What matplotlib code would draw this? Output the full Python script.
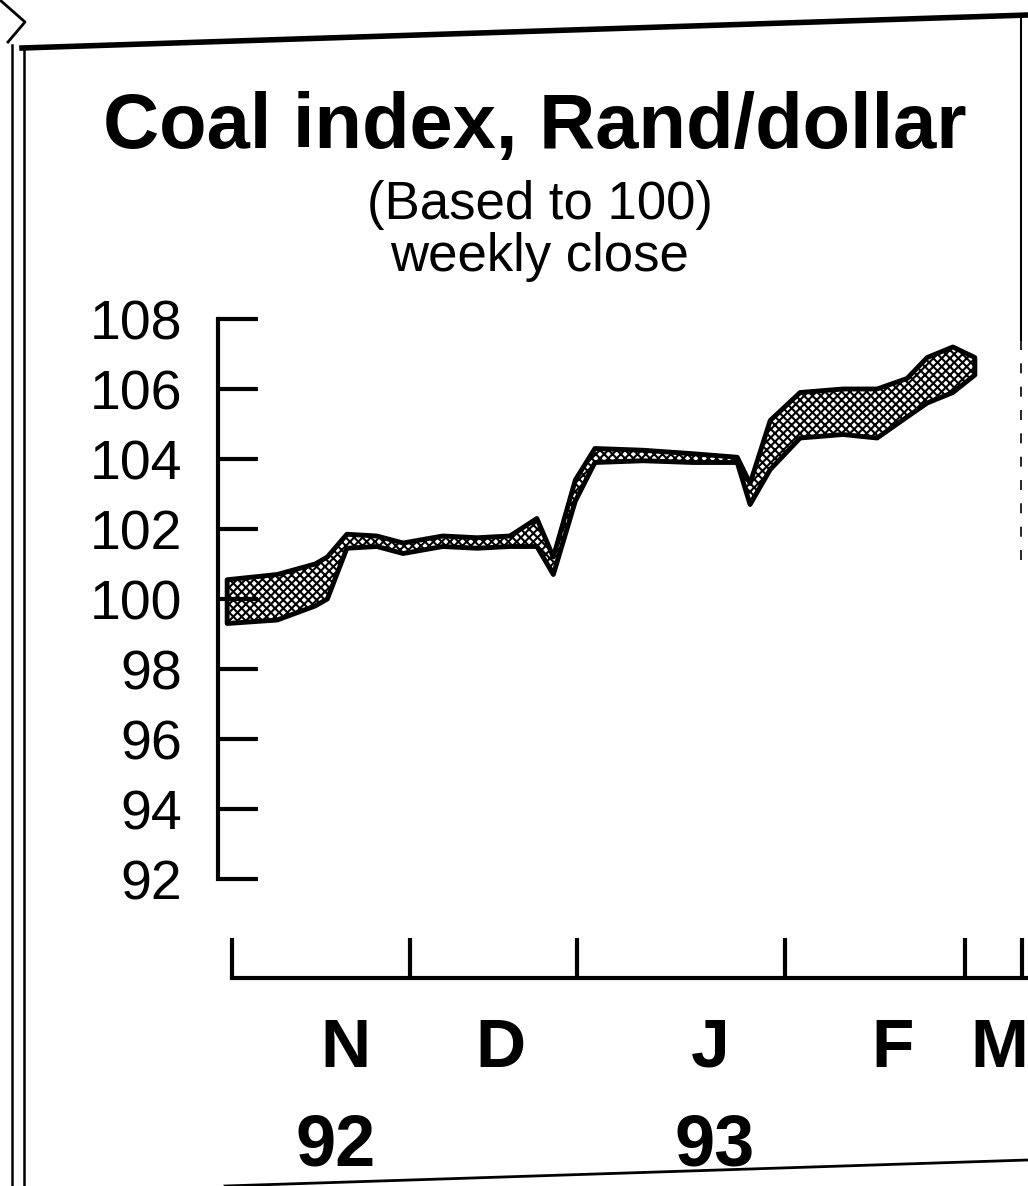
import matplotlib
matplotlib.use('Agg')
import matplotlib.pyplot as plt
import matplotlib.transforms as mtransforms
from matplotlib.lines import Line2D

plt.rcParams['font.family'] = ['Liberation Sans Narrow', 'Liberation Sans', 'DejaVu Sans']
plt.rcParams['hatch.linewidth'] = 1.5

# weekly close band, x in days from 1 Nov 1992 as laid out on the chart
days = [-0.8, 7.4, 13.6, 15.6, 18.8, 23.7, 28.0, 34.5, 40.1, 45.5, 49.9, 52.6,
        56.2, 59.4, 67.3, 75.5, 82.7, 84.8, 88.1, 93.0, 100.0, 105.6, 110.5,
        113.8, 118.0, 121.6]
upper = [100.55, 100.7, 101.0, 101.2, 101.85, 101.8, 101.6, 101.8, 101.75, 101.8,
         102.3, 101.2, 103.4, 104.3, 104.25, 104.15, 104.05, 103.3, 105.1, 105.9,
         106.0, 106.0, 106.3, 106.9, 107.2, 106.9]
lower = [99.3, 99.4, 99.8, 100.0, 101.45, 101.5, 101.3, 101.5, 101.45, 101.5,
         101.5, 100.7, 102.8, 103.9, 103.95, 103.9, 103.9, 102.7, 103.7, 104.6,
         104.7, 104.6, 105.2, 105.6, 105.9, 106.4]

yticks = [92, 94, 96, 98, 100, 102, 104, 106, 108]
month_edges = [0, 29.1, 56.5, 90.6, 120, 129.3]
month_mid = [18.5, 43.9, 78.3, 108.2, 125.6]
months = ['N', 'D', 'J', 'F', 'M']
year_pos = [16.9, 79.0]
years = ['92', '93']

W, H = 1028, 1186
fig = plt.figure(figsize=(W / 100, H / 100), dpi=100)

# main panel
ax = fig.add_axes([218 / W, (H - 879) / H, (W - 218) / W, 560 / H])
ax.set_xlim(-2.3, 130.3)
ax.set_ylim(92, 108)
ax.fill_between(days, lower, upper, facecolor='white', edgecolor='black',
                hatch='xxxx', linewidth=3.5)
for s in ['top', 'right', 'bottom']:
    ax.spines[s].set_visible(False)
ax.spines['left'].set_linewidth(3)
ax.spines['left'].set_bounds(92, 108)
ax.set_yticks(yticks)
ax.set_yticklabels([str(v) for v in yticks])
ax.tick_params(axis='y', direction='in', length=29, width=3, labelsize=40, pad=26)
ax.set_xticks([])
ax.patch.set_alpha(0)

# month axis, drawn apart below the panel
ax2 = fig.add_axes([218 / W, (H - 978) / H, (W - 218) / W, 0.0001])
ax2.set_xlim(-2.3, 130.3)
ax2.set_ylim(0, 1)
for s in ['top', 'right', 'left']:
    ax2.spines[s].set_visible(False)
ax2.spines['bottom'].set_linewidth(3)
ax2.spines['bottom'].set_bounds(0, 131)
ax2.set_yticks([])
ax2.set_xticks(month_edges)
ax2.set_xticklabels([''] * len(month_edges))
ax2.tick_params(axis='x', which='major', direction='in', length=29, width=3)
ax2.set_xticks(month_mid, minor=True)
ax2.set_xticklabels(months, minor=True, fontsize=50, fontweight='bold')
ax2.tick_params(axis='x', which='minor', length=0, pad=28)
ax2.patch.set_alpha(0)

trans = mtransforms.blended_transform_factory(ax2.transData, fig.transFigure)
for x, lab in zip(year_pos, years):
    ax2.text(x, 1 - 1146 / H, lab, transform=trans, ha='center', va='center',
             fontsize=52, fontweight='bold', clip_on=False)

# titles
fig.text(535 / W, 1 - 128 / H, 'Coal index, Rand/dollar', ha='center', va='center',
         fontsize=56, fontweight='bold')
fig.text(540 / W, 1 - 205 / H, '(Based to 100)', ha='center', va='center', fontsize=38)
fig.text(540 / W, 1 - 257 / H, 'weekly close', ha='center', va='center', fontsize=38)

# clipping frame from the page
def px_line(xs, ys, **kw):
    fig.add_artist(Line2D([x / W for x in xs], [1 - y / H for y in ys],
                          transform=fig.transFigure, color='black', **kw))

px_line([22, 1028], [48, 15], lw=4)
px_line([12, 12], [45, 1186], lw=1.8)
px_line([24, 24], [48, 1186], lw=1.8)
px_line([1021, 1021], [15, 340], lw=1.5)
px_line([1021, 1021], [340, 570], lw=1.2, ls=(0, (6, 8)))
px_line([225, 1028], [1186, 1160], lw=2)
px_line([0, 25, 8], [0, 22, 42], lw=2)

fig.savefig('out.png', dpi=100)
